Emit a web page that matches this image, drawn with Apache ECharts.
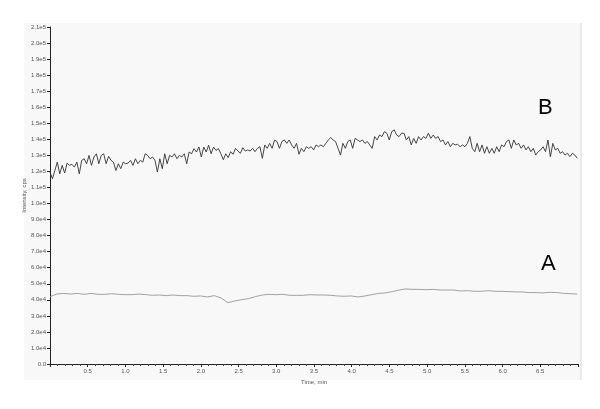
<!DOCTYPE html>
<html>
<head>
<meta charset="utf-8">
<script src="https://cdn.jsdelivr.net/npm/echarts@6/dist/echarts.min.js"></script>
<style>
  html, body { margin: 0; padding: 0; background: #fff; }
  #main { width: 600px; height: 409px; }
</style>
</head>
<body>
<div id="main"></div>
<script>
var traceB = [
  119600, 115400, 120600, 125800, 118500, 123800, 119000, 125200, 123800, 124400,
  122700, 125800, 118500, 126900, 127900, 124800, 130000, 123800, 129000, 131000,
  124800, 130000, 131000, 124800, 129400, 126900, 125800, 120600, 124800, 121700,
  125800, 124800, 125200, 126900, 123800, 127900, 124800, 126900, 125800, 131000,
  130000, 127900, 129000, 126900, 119600, 127900, 121700, 131000, 124800, 130000,
  129000, 131000, 127900, 130000, 129000, 131000, 124800, 132100, 131000, 134200,
  132100, 135200, 129000, 135200, 132100, 136300, 131000, 135200, 133100, 134200,
  131000, 127300, 131000,
  128600, 132300, 130700, 134400, 132700, 131300, 134800, 132700, 133400, 132700,
  134400, 132300, 134400, 135400, 128200, 136500, 134400, 137500, 134400, 139600,
  138600, 134400, 138600, 139600, 137500, 139600, 136500, 134400, 137500, 130700,
  134400, 132300, 135400, 134400, 135400, 133400, 136500, 135400, 136500, 135400,
  137500, 139600, 141100, 139600, 138600, 134400, 130200, 137500, 134400, 138600,
  139600, 134400, 140600, 139600, 138600, 139600, 137500, 138600, 136500, 134400,
  141700, 139600, 142700, 141700, 144800, 143800, 139600, 144800, 145900, 142700,
  141700, 143800,
  143800, 139600, 141700, 136500, 140600, 137500, 141700, 139600, 141700, 140600,
  143800, 140600, 142700, 140600, 141700, 138600, 139600, 136500, 138600, 135400,
  137500, 136500, 136900, 135400, 136500, 135400, 137500, 141700, 134400, 132300,
  137500, 132300, 136500, 131300, 135400, 131300, 134400, 131300, 135400, 132300,
  136500, 135400, 138600, 139600, 134400, 139600, 136500, 137500, 134400, 136500,
  133400, 135400, 132300, 134400, 130200, 132300, 133400, 135400, 132300, 139600,
  129200, 137500, 133400, 134400, 131300, 132300, 130200, 131300, 129200, 131300,
  130200, 128200
];

// trace A (cps)
var traceA = [
  42000, 43600, 44000, 43600, 44000, 43400, 44000, 43400, 43400, 43800,
  43400, 43200, 43200, 43600, 43200, 42800, 43000, 42600, 43000, 42600,
  42600, 42200, 42400, 41800, 42600, 41100, 38200, 39300, 40100, 40700,
  42000, 43000, 43400, 43200, 43400, 42800, 42800, 42800, 43200, 43000,
  43000, 42800, 42400, 42200, 42400, 41800, 42400, 43200, 44000, 44300,
  45100, 46100, 46800, 46500, 46500, 46300, 46500, 46100, 46100, 46100,
  45500, 45700, 45300, 45300, 45700, 45300, 45300, 45100, 44900, 44900,
  44500, 44500, 44300, 44700, 44500, 44000, 43800, 43600
];

var tEnd = 6.99;
var xTicks = [0.5, 1.0, 1.5, 2.0, 2.5, 3.0, 3.5, 4.0, 4.5, 5.0, 5.5, 6.0, 6.5];
var yMax = 210000;
var yStep = 10000;

function toPairs(vals) {
  var dt = tEnd / (vals.length - 1);
  return vals.map(function (v, i) { return [i * dt, v]; });
}

function sciLabel(v) {
  if (v === 0) return '0.0';
  var e = Math.floor(Math.log10(v) + 1e-9);
  return (v / Math.pow(10, e)).toFixed(1) + 'e' + e;
}

var myChart = echarts.init(document.getElementById('main'));
myChart.setOption({
  animation: false,
  textStyle: { fontFamily: 'Liberation Sans' },
  graphic: [
    { type: 'rect', z: -10, shape: { x: 24, y: 23, width: 557, height: 357 },
      style: { fill: '#f8f8f8' } },
    { type: 'line', z: -9, shape: { x1: 581, y1: 23, x2: 581, y2: 380 },
      style: { stroke: '#d8d8d8', lineWidth: 1 } },
    { type: 'text', left: 538, top: 97, z: 10,
      style: { text: 'B', fontSize: 22, fill: '#000', fontFamily: 'Liberation Sans' } },
    { type: 'text', left: 541, top: 253, z: 10,
      style: { text: 'A', fontSize: 22, fill: '#000', fontFamily: 'Liberation Sans' } }
  ],
  grid: { left: 50, right: 22, top: 27, bottom: 45 },
  xAxis: {
    type: 'value',
    min: 0,
    max: 7,
    interval: 0.5,
    name: 'Time, min',
    nameLocation: 'middle',
    nameGap: 8,
    nameTextStyle: { fontSize: 6, color: '#555' },
    axisLine: { lineStyle: { color: '#222', width: 1 } },
    axisTick: { length: 3, lineStyle: { color: '#222' } },
    minorTick: { show: true, splitNumber: 5, length: 2, lineStyle: { color: '#444' } },
    splitLine: { show: false },
    axisLabel: {
      fontSize: 6, color: '#555', margin: 4,
      formatter: function (v) {
        return xTicks.indexOf(Math.round(v * 10) / 10) >= 0 ? v.toFixed(1) : '';
      }
    }
  },
  yAxis: {
    type: 'value',
    min: 0,
    max: yMax,
    interval: yStep,
    name: 'Intensity, cps',
    nameLocation: 'middle',
    nameGap: 23,
    nameMoveOverlap: false,
    nameTextStyle: { fontSize: 6, color: '#555' },
    axisLine: { show: true, lineStyle: { color: '#222', width: 1 } },
    axisTick: { show: true, length: 3, lineStyle: { color: '#222' } },
    splitLine: { show: false },
    axisLabel: { fontSize: 6, color: '#555', margin: 4, formatter: sciLabel }
  },
  series: [
    {
      name: 'B', type: 'line', showSymbol: false,
      data: toPairs(traceB),
      lineStyle: { color: '#333333', width: 0.9 }
    },
    {
      name: 'A', type: 'line', showSymbol: false,
      data: toPairs(traceA),
      lineStyle: { color: '#8a8a8a', width: 0.8 }
    }
  ]
});
</script>
</body>
</html>
